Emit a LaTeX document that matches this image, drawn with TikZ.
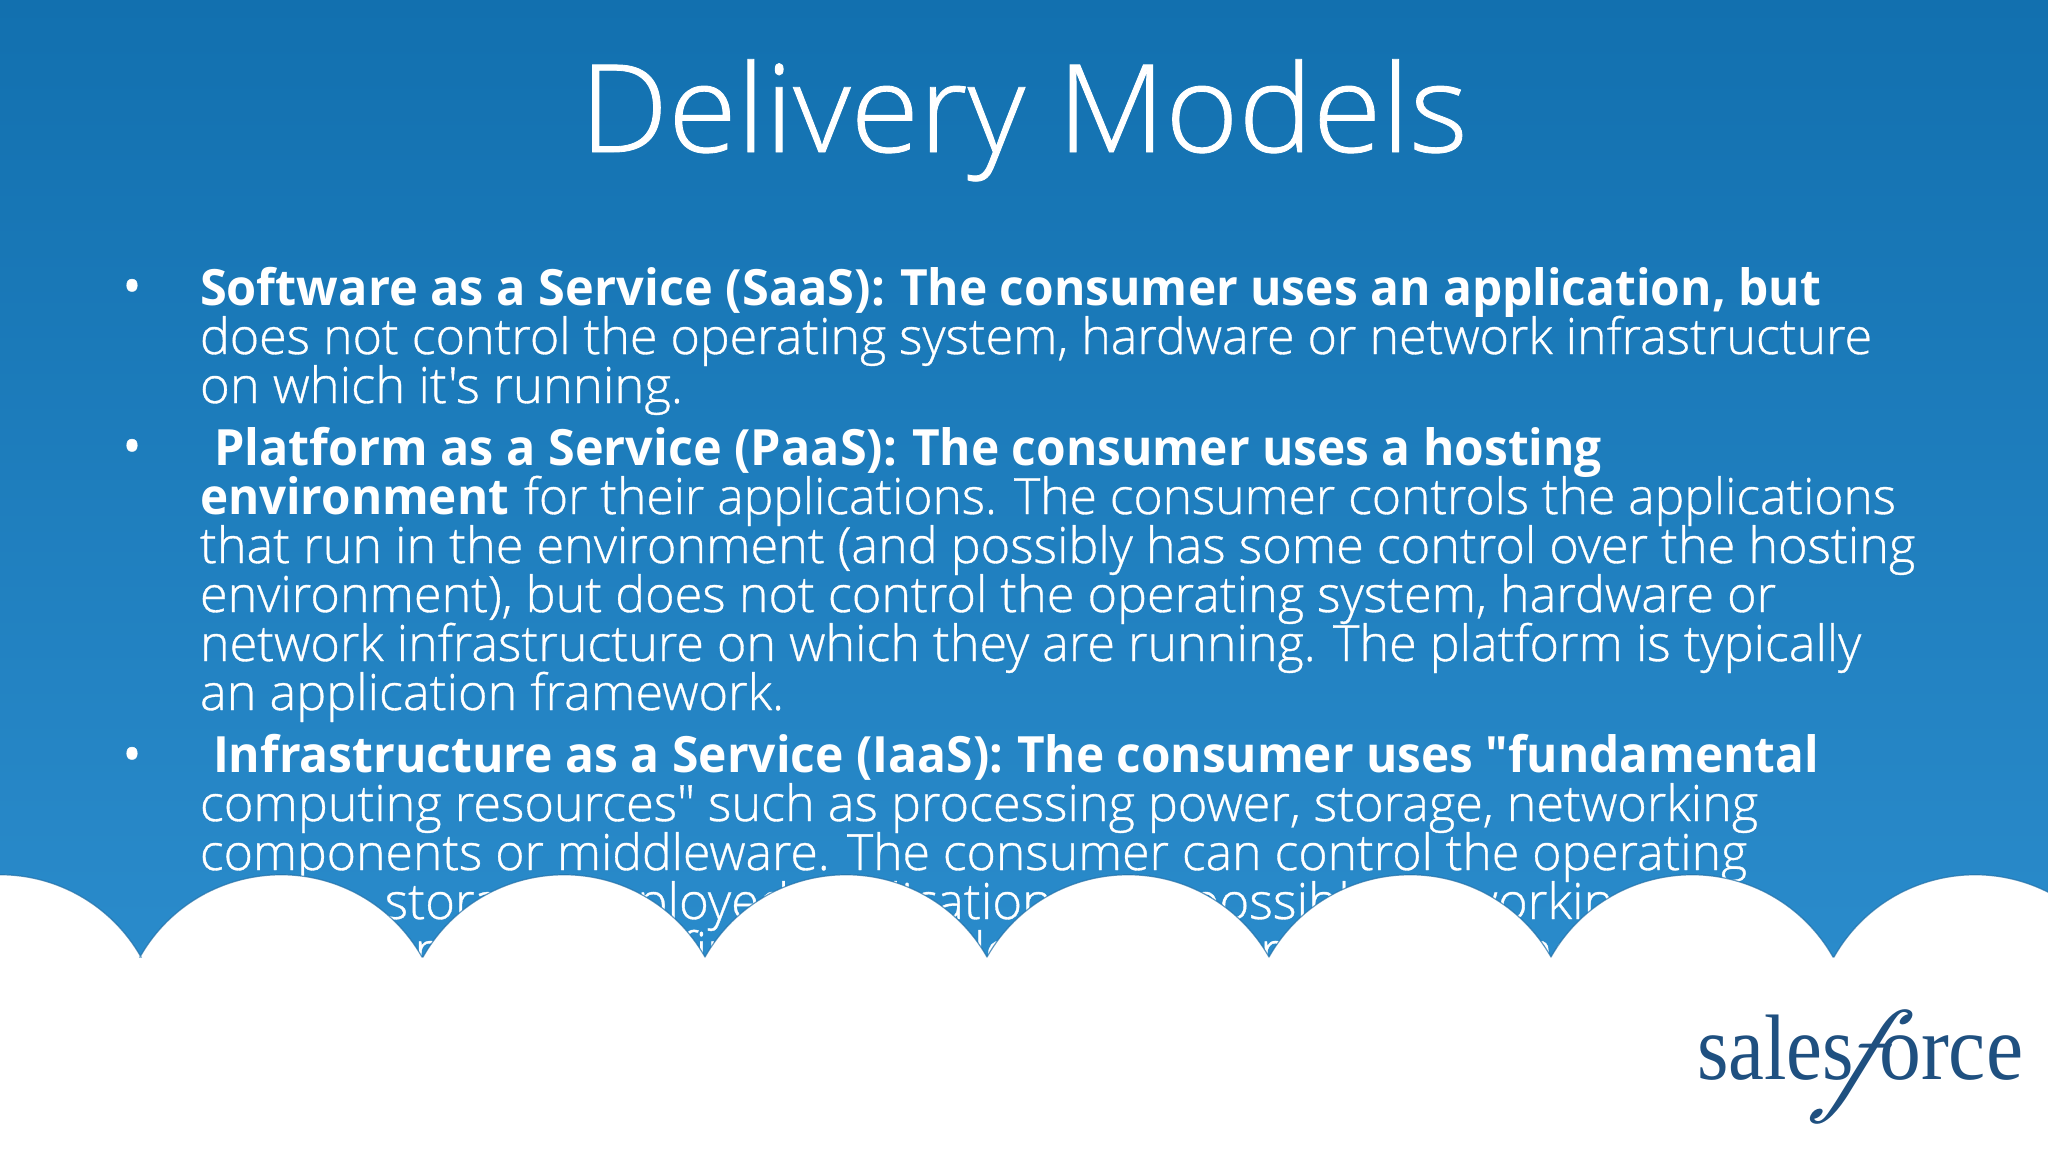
\documentclass[tikz,border=0pt]{standalone}
\usepackage{fontspec}
\usepackage{graphicx}
\setmainfont{Open Sans Light}[Ligatures=TeXOff,FakeBold=0.7,BoldFont={Open Sans Bold},BoldFeatures={FakeBold=0}]
\newfontfamily\logofont{Liberation Serif}
\newfontfamily\logoital{lmroman10-italic.otf}
\definecolor{bgtop}{HTML}{1270AF}
\definecolor{bgbot}{HTML}{2A8BCB}
\definecolor{cloudedge}{HTML}{1A6BA5}
\definecolor{logoblue}{HTML}{1F5080}
\newcommand{\fitw}[2]{\resizebox{#1pt}{\height}{#2}}
\newcommand{\cloudarc}{arc[start angle=209.5,end angle=330.5,radius=162]}
\tikzset{
  x=1pt,y=-1pt,
  txt/.style={anchor=base west,inner sep=0pt,outer sep=0pt,text=white,font=\fontsize{50}{50}\selectfont},
  bul/.style={text=white,inner sep=0pt,font=\fontsize{70}{70}\selectfont},
  ttl/.style={anchor=base,inner sep=0pt,text=white,font=\fontsize{122}{122}\selectfont},
  logotxt/.style={anchor=base west,inner sep=0pt,text=logoblue,font=\logofont\fontsize{93}{93}\selectfont},
}
\begin{document}
\begin{tikzpicture}
\useasboundingbox (0,0) rectangle (2048,1152);
\shade[top color=bgtop,bottom color=bgbot] (0,0) rectangle (2048,960);
\node[ttl] (title) at (1024,152) {\resizebox{888pt}{\height}{Delivery Models}};
\node[bul] (b1) at (132,295) {•};
\node[bul] (b2) at (132,455) {•};
\node[bul] (b3) at (132,763) {•};
\node[txt] (l1) at (200,305) {\fitw{685}{\textbf{Software as a Service (SaaS):}}\hspace{15pt}\fitw{921}{\textbf{The consumer uses an application, but}}};
\node[txt] (l2) at (200,354) {\fitw{1672}{does not control the operating system, hardware or network infrastructure}};
\node[txt] (l3) at (200,403) {\fitw{483}{on which it's running.}};
\node[txt] (l4) at (214,465) {\fitw{683}{\textbf{Platform as a Service (PaaS):}}\hspace{15pt}\fitw{690}{\textbf{The consumer uses a hosting}}};
\node[txt] (l5) at (200,514) {\fitw{309}{\textbf{environment}}\hspace{15pt}\fitw{1372}{for their applications. The consumer controls the applications}};
\node[txt] (l6) at (200,563) {\fitw{1715}{that run in the environment (and possibly has some control over the hosting}};
\node[txt] (l7) at (200,612) {\fitw{1576}{environment), but does not control the operating system, hardware or}};
\node[txt] (l8) at (200,661) {\fitw{1661}{network infrastructure on which they are running. The platform is typically}};
\node[txt] (l9) at (200,710) {\fitw{584}{an application framework.}};
\node[txt] (l10) at (213,772) {\fitw{790}{\textbf{Infrastructure as a Service (IaaS):}}\hspace{14pt}\fitw{802}{\textbf{The consumer uses "fundamental}}};
\node[txt] (l11) at (200,821) {\fitw{1558}{computing resources" such as processing power, storage, networking}};
\node[txt] (l12) at (200,870) {\fitw{1547}{components or middleware. The consumer can control the operating}};
\node[txt] (l13) at (200,919) {\fitw{1440}{system, storage, deployed applications and possibly networking}};
\node[txt] (l14) at (200,968) {\fitw{1380}{components such as firewalls and load balancers, but not the}};
% cloud
\path[fill=white,draw=cloudedge,draw opacity=.7,line width=1.2pt]
  (-141,957) \cloudarc
  -- (140,957) \cloudarc
  -- (423,957) \cloudarc
  -- (705,957) \cloudarc
  -- (987,957) \cloudarc
  -- (1269,957) \cloudarc
  -- (1551,957) \cloudarc
  -- (1834,957) \cloudarc
  -- (2116,1200) -- (-141,1200) -- cycle;
% logo
\node[logotxt] (s1) at (1697,1079) {\resizebox{157pt}{\height}{sales}};
\node[anchor=base,inner sep=0pt,text=logoblue,font=\logoital\fontsize{126}{126}\selectfont,transform shape,xslant=0.42] (s2) at (1841,1098) {f};
\node[logotxt] (s3) at (1879,1079) {\resizebox{144pt}{\height}{orce}};
\end{tikzpicture}
\end{document}
